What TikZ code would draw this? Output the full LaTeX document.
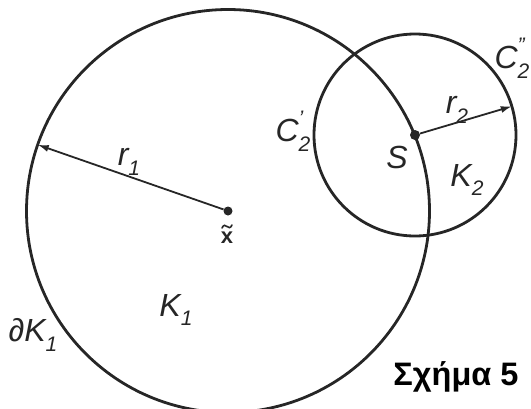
\documentclass[tikz,border=0pt]{standalone}
\usepackage{fontspec}
\setmainfont{Liberation Sans}
\usetikzlibrary{arrows.meta}
\definecolor{ink}{HTML}{262626}
\newcommand\lsub[1]{\raisebox{-0.3em}{\fontsize{21}{21}\selectfont #1}}
\newcommand\lsubp[2]{\hbox{\rlap{\raisebox{0.5em}{\fontsize{21}{21}\selectfont #2}}\raisebox{-0.3em}{\fontsize{21}{21}\selectfont #1}}}
\begin{document}
\begin{tikzpicture}[x=1pt,y=-1pt,
  circ/.style={draw=ink,line width=2.8pt},
  arr/.style={draw=ink,line width=1.8pt,-{Latex[length=11pt,width=7pt]}},
  dot/.style={circle,fill=ink,inner sep=0pt,minimum size=9pt},
  lab/.style={text=ink,font=\fontsize{32}{32}\selectfont\itshape,inner sep=0pt},
  title/.style={text=black,font=\fontsize{32.5}{32.5}\selectfont\bfseries,inner sep=0pt}]
\useasboundingbox (0,0) rectangle (531,408);
\node[dot] (c1) at (228,211) {};
\node[dot,minimum size=10pt] (s) at (415,135) {};
\draw[circ] (c1.center) circle (201.5pt);
\draw[circ] (s.center) circle (101pt);
\coordinate (t1) at ([shift={(160.8:201.5pt)}]c1.center);
\coordinate (t2) at ([shift={(16.5:101pt)}]s.center);
\draw[arr] (c1) -- (t1);
\draw[arr] (s) -- (t2);
% labels
\node[lab] (r1) at (129,162) {r\lsub{1}};
\node[lab] (dk1) at (33,335) {∂K\lsub{1}};
\node[lab] (k1) at (176,310) {K\lsub{1}};
\node[lab] (c2a) at (293,131) {C\lsubp{2}{'}};
\node[lab] (sl) at (397,157) {S};
\node[lab] (r2) at (457,110) {r\lsub{2}};
\node[lab] (k2) at (467,180) {K\lsub{2}};
\node[lab] (c2b) at (512,58) {C\lsubp{2}{"}};
\node[text=ink,font=\fontsize{22}{22}\selectfont\bfseries,inner sep=0pt] (xt) at (227,238) {x};
\coordinate (tl0) at ([shift={(-5pt,4pt)}]xt.north);
\coordinate (tlm) at ([shift={(0pt,5.5pt)}]xt.north);
\coordinate (tl1) at ([shift={(5pt,7pt)}]xt.north);
\draw[ink,line width=1.6pt,line cap=round] (tl0)
  .. controls +(1.5pt,3.5pt) and +(-1.5pt,1.5pt) .. (tlm)
  .. controls +(1.5pt,-1.5pt) and +(-1.5pt,-3.5pt) .. (tl1);
\node[title,anchor=base] (cap) at (456,385) {Σχήμα 5};
\end{tikzpicture}
\end{document}
